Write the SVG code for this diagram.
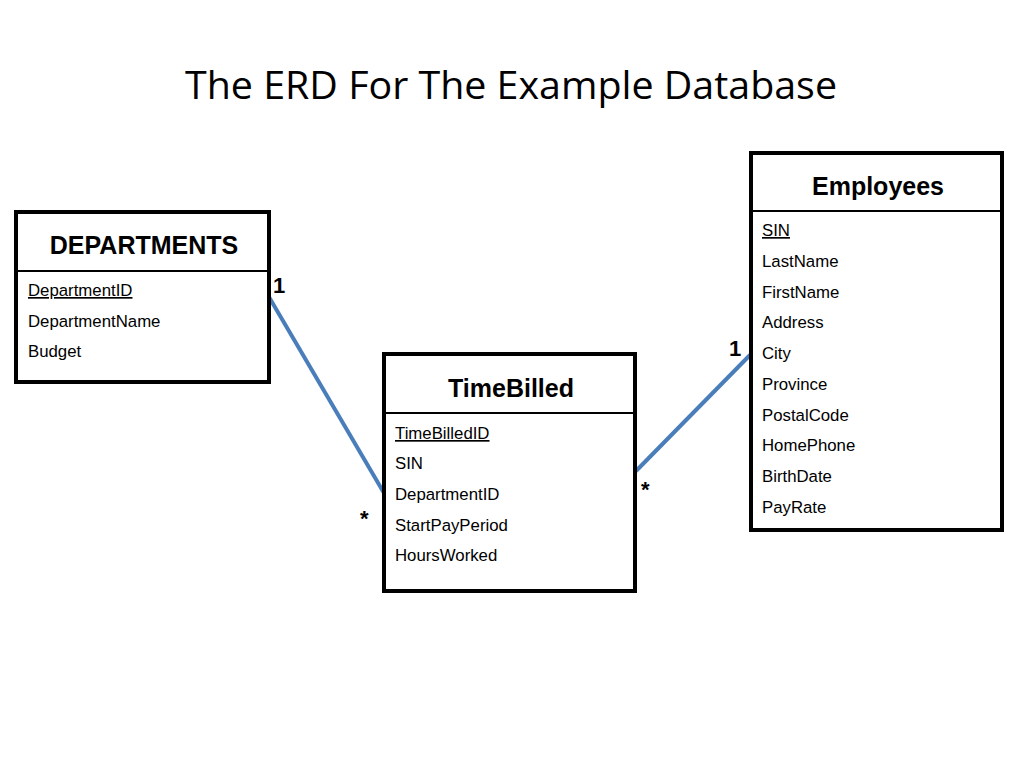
<svg xmlns="http://www.w3.org/2000/svg" width="1024" height="768" viewBox="0 0 1024 768">
<style>
.box{fill:#fff;stroke:#000;stroke-width:4}
.div{stroke:#000;stroke-width:2}
.hd{font-family:"Liberation Sans",Arial,sans-serif;font-weight:bold;font-size:25px;text-anchor:middle}
.at{font-family:"Liberation Sans",Arial,sans-serif;font-size:16.8px}
.u{text-decoration:underline}
.card{font-family:"Liberation Sans",Arial,sans-serif;font-weight:bold;font-size:22px}
.ln{stroke:#4a7ebb;stroke-width:4;fill:none}
</style>
<rect width="1024" height="768" fill="#fff"/>
<text x="511" y="99" font-family="'Open Sans','Liberation Sans',sans-serif" font-size="38" text-anchor="middle" textLength="652" lengthAdjust="spacingAndGlyphs">The ERD For The Example Database</text>
<g id="connectors">
<line class="ln" x1="269" y1="297" x2="384" y2="493"/>
<line class="ln" x1="636" y1="471" x2="750" y2="355"/>
<text class="card" x="273" y="293">1</text>
<text class="card" x="360" y="526">*</text>
<text class="card" x="641" y="497">*</text>
<text class="card" x="729" y="356">1</text>
</g>
<g id="departments">
<rect class="box" x="16" y="212" width="253" height="170"/>
<line class="div" x1="16" y1="271" x2="269" y2="271"/>
<text class="hd" x="144" y="254">DEPARTMENTS</text>
<text class="at u" x="28" y="296">DepartmentID</text>
<text class="at" x="28" y="327">DepartmentName</text>
<text class="at" x="28" y="357">Budget</text>
</g>
<g id="timebilled">
<rect class="box" x="384" y="354" width="251" height="237"/>
<line class="div" x1="384" y1="413" x2="635" y2="413"/>
<text class="hd" x="511" y="397">TimeBilled</text>
<text class="at u" x="395" y="439">TimeBilledID</text>
<text class="at" x="395" y="469">SIN</text>
<text class="at" x="395" y="500">DepartmentID</text>
<text class="at" x="395" y="531">StartPayPeriod</text>
<text class="at" x="395" y="561">HoursWorked</text>
</g>
<g id="employees">
<rect class="box" x="751" y="153" width="251" height="377"/>
<line class="div" x1="751" y1="211" x2="1002" y2="211"/>
<text class="hd" x="878" y="195">Employees</text>
<text class="at u" x="762" y="236">SIN</text>
<text class="at" x="762" y="267">LastName</text>
<text class="at" x="762" y="298">FirstName</text>
<text class="at" x="762" y="328">Address</text>
<text class="at" x="762" y="359">City</text>
<text class="at" x="762" y="390">Province</text>
<text class="at" x="762" y="421">PostalCode</text>
<text class="at" x="762" y="451">HomePhone</text>
<text class="at" x="762" y="482">BirthDate</text>
<text class="at" x="762" y="513">PayRate</text>
</g>
</svg>
